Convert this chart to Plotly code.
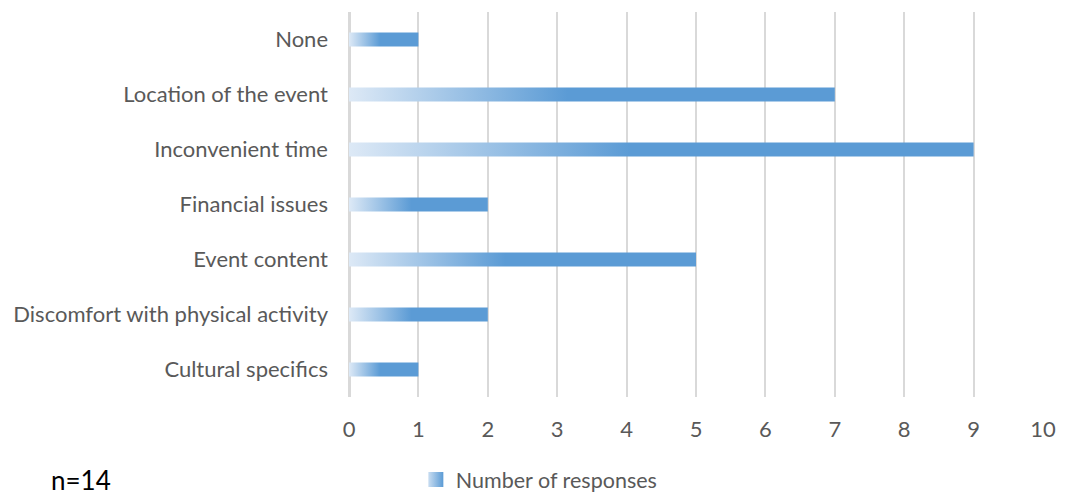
import plotly.graph_objects as go

categories = ["None", "Location of the event", "Inconvenient time", "Financial issues",
              "Event content", "Discomfort with physical activity", "Cultural specifics"]
values = [1, 7, 9, 2, 5, 2, 1]
series_name = "Number of responses"
x_ticks = list(range(0, 11))
note = "n=14"

HALF = 0.128
LIGHT, DARK = "#dde9f6", "#5b9bd5"
grad = [[0, LIGHT], [0.45, DARK], [1, DARK]]

fig = go.Figure()
for i, (cat, v) in enumerate(zip(categories, values)):
    fig.add_trace(go.Scatter(
        x=[0, v, v, 0, 0],
        y=[i - HALF, i - HALF, i + HALF, i + HALF, i - HALF],
        mode="lines", fill="toself", line=dict(width=0, color=DARK),
        fillgradient=dict(type="horizontal", colorscale=grad),
        name=series_name, legendgroup="g", showlegend=False,
        hoveron="fills", text=f"{cat}: {v}",
    ))
# legend entry
fig.add_trace(go.Scatter(
    x=[None], y=[None], mode="markers", name=series_name, legendgroup="g",
    marker=dict(symbol="square", size=15, color="#c9ddf1",
                gradient=dict(type="horizontal", color=DARK)),
))

fig.update_layout(
    width=1068, height=497,
    margin=dict(l=349, r=14, t=12, b=100),
    paper_bgcolor="white", plot_bgcolor="white",
    font=dict(family="Lato, Calibri, sans-serif", size=22, color="#595959"),
    xaxis=dict(range=[0, 10], tickvals=x_ticks, showgrid=True, gridcolor="#d9d9d9", gridwidth=2,
               zeroline=True, zerolinecolor="#d9d9d9", zerolinewidth=3, showline=False,
               ticks="", ticklabelstandoff=17, fixedrange=True),
    yaxis=dict(range=[6.5, -0.5], tickvals=list(range(len(categories))), ticktext=categories,
               showgrid=False, zeroline=False, showline=False, ticks="", ticklabelstandoff=20),
    legend=dict(orientation="h", xref="container", yref="container", x=0.505, y=0.035,
                xanchor="center", yanchor="middle", font=dict(size=21.5, color="#595959"),
                itemwidth=30),
    annotations=[dict(text=note, xref="paper", yref="paper", x=-0.432, y=-0.216,
                      xanchor="left", yanchor="middle", showarrow=False,
                      font=dict(size=26, color="#000000"))],
)

fig.write_html("out.html")
